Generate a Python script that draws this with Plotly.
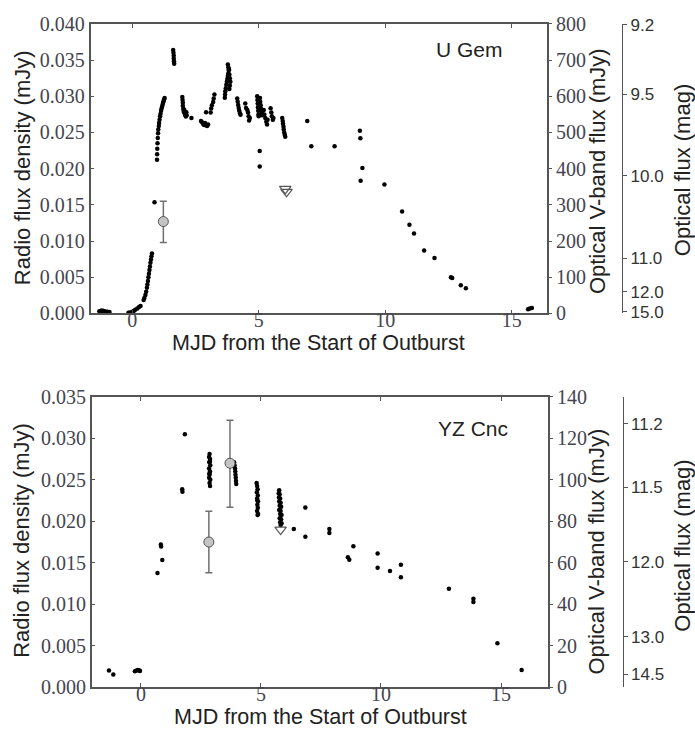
import plotly.graph_objects as go

# ---------------- data: U Gem (top panel) ----------------
# optical V-band flux (mJy) vs days from start of outburst
OPT_TOP_T = [
    -1.30, -1.25, -1.20, -1.14, -1.08, -0.98, -0.90,
    -0.15, -0.08, 0.00, 0.06, 0.12, 0.20, 0.27, 0.33,
    0.45, 0.48, 0.52, 0.55, 0.58, 0.60, 0.62, 0.64, 0.66, 0.68, 0.70, 0.72, 0.74, 0.76, 0.78,
    0.88,
    0.98, 0.985, 0.99, 1.00, 1.01, 1.02, 1.03, 1.05, 1.06, 1.08, 1.10, 1.12, 1.14, 1.16, 1.18, 1.20, 1.22, 1.24, 1.26, 1.28,
    1.62, 1.63, 1.64, 1.64, 1.65, 1.66,
    1.98, 1.99, 2.00, 2.00, 2.02, 2.03, 2.05, 2.06, 2.08, 2.10, 2.12, 2.14, 2.15, 2.34,
    2.72, 2.76, 2.80, 2.84, 2.88, 2.92, 2.96, 3.00, 2.92,
    3.10, 3.12, 3.15, 3.20, 3.22, 3.25,
    3.66, 3.67, 3.68, 3.70, 3.72, 3.74, 3.76, 3.78, 3.80, 3.82, 3.80, 3.78, 3.84, 3.86, 3.88, 3.86, 3.84, 3.82,
    4.15, 4.17, 4.19, 4.21, 4.23, 4.26, 4.28,
    4.47, 4.50, 4.55, 4.58, 4.60, 4.65, 4.62,
    4.94, 4.95, 4.96, 4.97, 4.98, 4.99, 5.00, 5.05, 5.06, 5.08, 5.10, 5.12, 5.13,
    5.20, 5.22, 5.26, 5.30, 5.33, 5.35,
    5.47, 5.50, 5.52, 5.56, 5.58,
    5.93, 5.95, 5.96, 5.98, 5.99, 6.01, 6.03, 6.05,
    5.04, 5.04, 6.92, 7.08, 8.00, 9.00, 9.02, 9.10, 9.03, 9.97, 10.67, 10.96, 11.14,
    11.54, 11.95, 12.60, 12.65, 12.99, 13.19, 15.65, 15.72, 15.80,
]
OPT_TOP_F = [
    6, 7, 8, 7, 6, 5, 4,
    2, 3, 5, 7, 10, 14, 18, 21,
    37, 43, 51, 60, 71, 80, 90, 100, 110, 120, 130, 140, 149, 158, 166,
    307,
    425, 440, 455, 470, 485, 498, 508, 518, 526, 535, 545, 552, 560, 566, 571, 577, 582, 587, 591, 595,
    728, 720, 712, 704, 697, 690,
    598, 590, 582, 574, 566, 560, 556, 562, 552, 548, 544, 556, 548, 540,
    532, 528, 524, 521, 526, 520, 518, 522, 556,
    555, 566, 575, 584, 594, 605,
    596, 605, 614, 622, 632, 640, 648, 656, 664, 672, 680, 688, 660, 650, 640, 630, 620, 675,
    594, 585, 576, 568, 560, 553, 549,
    580, 568, 562, 555, 545, 540, 533,
    600, 590, 580, 570, 560, 550, 545, 595, 585, 575, 565, 555, 548,
    562, 550, 540, 530, 522, 535,
    567, 555, 545, 535, 540,
    540, 532, 524, 516, 508, 500, 494, 488,
    449, 406, 532, 462, 462, 505, 484, 402, 367, 356, 282, 245, 221,
    174, 153, 100, 98, 78, 70, 12, 14, 15,
]
# radio detections (mJy) with asymmetric errors, and upper limits
RADIO_TOP_T = [1.23]
RADIO_TOP_S = [0.0127]
RADIO_TOP_EUP = [0.0028]
RADIO_TOP_EDN = [0.0029]
LIMIT_TOP_T = [6.05, 6.10]
LIMIT_TOP_S = [0.0172, 0.0168]

# ---------------- data: YZ Cnc (bottom panel) ----------------
OPT_BOT_T = [
    -1.33, -1.15, -0.25, -0.18, -0.12, -0.06, -0.04,
    0.69, 0.83, 0.84, 0.89, 1.72, 1.73, 1.83,
    2.86, 2.84, 2.88, 2.85, 2.89, 2.84, 2.88, 2.86, 2.84, 2.89, 2.86, 2.88, 2.85, 2.87,
    3.88, 3.90, 3.92, 3.93, 3.94, 3.95, 3.96, 3.97,
    4.82, 4.84, 4.86, 4.83, 4.87, 4.84, 4.88, 4.85, 4.87, 4.84, 4.88, 4.86, 4.85,
    5.76, 5.74, 5.78, 5.75, 5.80, 5.76, 5.82, 5.78, 5.84, 5.76, 5.82, 5.80, 5.86, 5.78, 5.84, 5.80, 5.86, 5.82,
    6.37, 6.85, 6.85, 7.85, 7.85, 8.62, 8.68, 8.85, 9.86, 9.86, 10.375, 10.83, 10.83,
    12.83, 13.85, 13.85, 14.85, 15.86,
]
OPT_BOT_F = [
    8.0, 6.1, 7.6, 8.0, 8.2, 8.0, 7.8,
    55.1, 68.8, 67.8, 61.3, 95.5, 94.3, 122.0,
    112.5, 111.0, 110.0, 108.5, 107.0, 105.5, 104.0, 102.5, 101.0, 100.0, 98.5, 97.0, 103.0, 109.0,
    108.5, 107.0, 105.5, 104.0, 102.5, 101.0, 99.5, 98.0,
    98.5, 97.0, 95.5, 94.0, 92.5, 91.0, 89.5, 88.0, 86.5, 85.0, 83.5, 83.0, 90.0,
    95.0, 93.5, 93.0, 91.5, 91.0, 89.5, 89.0, 87.5, 87.0, 85.5, 85.0, 83.5, 83.0, 81.5, 81.0, 79.5, 79.0, 78.2,
    76.3, 86.6, 72.6, 76.3, 74.4, 62.6, 61.5, 68.0, 64.5, 57.6, 56.0, 59.0, 53.0,
    47.4, 42.6, 41.0, 21.2, 8.3,
]
RADIO_BOT_T = [2.83, 3.71]
RADIO_BOT_S = [0.0175, 0.0270]
RADIO_BOT_EUP = [0.0037, 0.0052]
RADIO_BOT_EDN = [0.0037, 0.0053]
LIMIT_BOT_T = [5.82]
LIMIT_BOT_S = [0.0190]

# ---------------- tick labels ----------------
X_TICKS = [0, 5, 10, 15]
MAG_TOP_LABELS = ["9.2", "9.5", "10.0", "11.0", "12.0", "15.0"]
MAG_TOP_FLUX = [798, 605, 381, 152, 60.5, 5]
MAG_BOT_LABELS = ["11.2", "11.5", "12.0", "13.0", "14.5"]
MAG_BOT_FLUX = [127, 96.5, 60.5, 24.2, 6.2]

TITLE_X = "MJD from the Start of Outburst"
TITLE_RADIO = "Radio flux density (mJy)"
TITLE_VBAND = "Optical V-band flux (mJy)"
TITLE_MAG = "Optical flux (mag)"

W, H = 695, 744
LINE = "#555555"
TICKFONT = dict(family="Liberation Serif", size=20, color="#444450")
MAGFONT = dict(family="Liberation Sans", size=17, color="#333333")
TITLEFONT = dict(family="Liberation Sans", size=22, color="#222222")

fig = go.Figure()


def add_panel(t_opt, f_opt, rt, rs, reu, red, lt, ls, xa, ybase, yradio, ymag):
    fig.add_trace(go.Scatter(x=t_opt, y=f_opt, mode="markers",
                             marker=dict(color="black", size=4.5),
                             xaxis=xa, yaxis=ybase, hoverinfo="skip"))
    fig.add_trace(go.Scatter(x=lt, y=ls, mode="markers",
                             marker=dict(symbol="triangle-down-open", size=10,
                                         color="#555555", line=dict(width=1.2)),
                             xaxis=xa, yaxis=yradio, hoverinfo="skip"))
    fig.add_trace(go.Scatter(x=rt, y=rs, mode="markers",
                             error_y=dict(type="data", array=reu, arrayminus=red,
                                          color="#707070", thickness=1.5, width=3.5),
                             marker=dict(size=10, color="#c4c4c4",
                                         line=dict(color="#555555", width=1)),
                             xaxis=xa, yaxis=yradio, hoverinfo="skip"))
    # the optical series is also attached (fully transparent) to the magnitude
    # axis so that this axis is drawn; it shares the flux scale of the base axis
    fig.add_trace(go.Scatter(x=t_opt, y=f_opt, mode="markers",
                             marker=dict(size=1, opacity=0), xaxis=xa, yaxis=ymag,
                             hoverinfo="skip"))


add_panel(OPT_TOP_T, OPT_TOP_F, RADIO_TOP_T, RADIO_TOP_S, RADIO_TOP_EUP, RADIO_TOP_EDN,
          LIMIT_TOP_T, LIMIT_TOP_S, "x", "y", "y2", "y3")
add_panel(OPT_BOT_T, OPT_BOT_F, RADIO_BOT_T, RADIO_BOT_S, RADIO_BOT_EUP, RADIO_BOT_EDN,
          LIMIT_BOT_T, LIMIT_BOT_S, "x2", "y4", "y5", "y6")

common = dict(showline=True, linecolor=LINE, linewidth=1.5, showgrid=False,
              zeroline=False, tickfont=TICKFONT, tickcolor=LINE, tickwidth=1,
              autorange=False, fixedrange=True)

top_dom = [1 - 311.7 / H, 1 - 13.3 / H]
bot_dom = [1 - 696.7 / H, 1 - 397.7 / H]

fig.update_layout(
    width=W, height=H, margin=dict(l=0, r=0, t=0, b=0),
    paper_bgcolor="white", plot_bgcolor="white", showlegend=False,
    # ---- top panel ----
    xaxis=dict(common, domain=[90.5 / W, 547.3 / W], range=[-1.65, 16.41],
               tickvals=X_TICKS, ticks="inside", ticklen=4, mirror="ticks", anchor="y",
               ticklabelstandoff=-12),
    yaxis=dict(common, domain=top_dom, range=[0, 800], dtick=100, tick0=0,
               side="right", ticks="outside", ticklen=3, mirror=True, anchor="x"),
    yaxis2=dict(common, overlaying="y", side="left", range=[0, 0.040], dtick=0.005,
                tick0=0, tickformat=".3f", ticks="inside", ticklen=4, anchor="x"),
    yaxis3=dict(common, overlaying="y", matches="y", side="right", anchor="free",
                position=622 / W, range=[0, 800], tickmode="array",
                tickvals=MAG_TOP_FLUX, ticktext=MAG_TOP_LABELS,
                ticks="outside", ticklen=4, tickfont=MAGFONT, linewidth=1.2),
    # ---- bottom panel ----
    xaxis2=dict(common, domain=[91.7 / W, 548.3 / W], range=[-2.05, 16.97],
                tickvals=X_TICKS, ticks="inside", ticklen=4, mirror="ticks", anchor="y4",
                ticklabelstandoff=-12),
    yaxis4=dict(common, domain=bot_dom, range=[0, 140], dtick=20, tick0=0,
                side="right", ticks="outside", ticklen=3, mirror=True, anchor="x2"),
    yaxis5=dict(common, overlaying="y4", side="left", range=[0, 0.035], dtick=0.005,
                tick0=0, tickformat=".3f", ticks="inside", ticklen=4, anchor="x2"),
    yaxis6=dict(common, overlaying="y4", matches="y4", side="right", anchor="free",
                position=622.5 / W, range=[0, 140], tickmode="array",
                tickvals=MAG_BOT_FLUX, ticktext=MAG_BOT_LABELS,
                ticks="outside", ticklen=4, tickfont=MAGFONT, linewidth=1.2),
)


def ann(text, px, py, size=22, angle=0):
    fig.add_annotation(text=text, x=px / W, y=1 - py / H, xref="paper", yref="paper",
                       showarrow=False, textangle=angle, xanchor="center",
                       yanchor="middle", font=dict(TITLEFONT, size=size))


# axis titles
ann(TITLE_RADIO, 22, 162, angle=-90)
ann(TITLE_RADIO, 22, 546, angle=-90)
ann(TITLE_X, 318, 342, size=21.5)
ann(TITLE_X, 320, 727, size=21.5)
ann(TITLE_VBAND, 597, 165, angle=-90)
ann(TITLE_VBAND, 597, 557, angle=-90)
ann(TITLE_MAG, 682, 164, angle=-90)
ann(TITLE_MAG, 683, 551, angle=-90)
# panel labels
ann("U Gem", 469, 40, size=21)
ann("YZ Cnc", 473, 430, size=21)

fig.write_html("out.html")
